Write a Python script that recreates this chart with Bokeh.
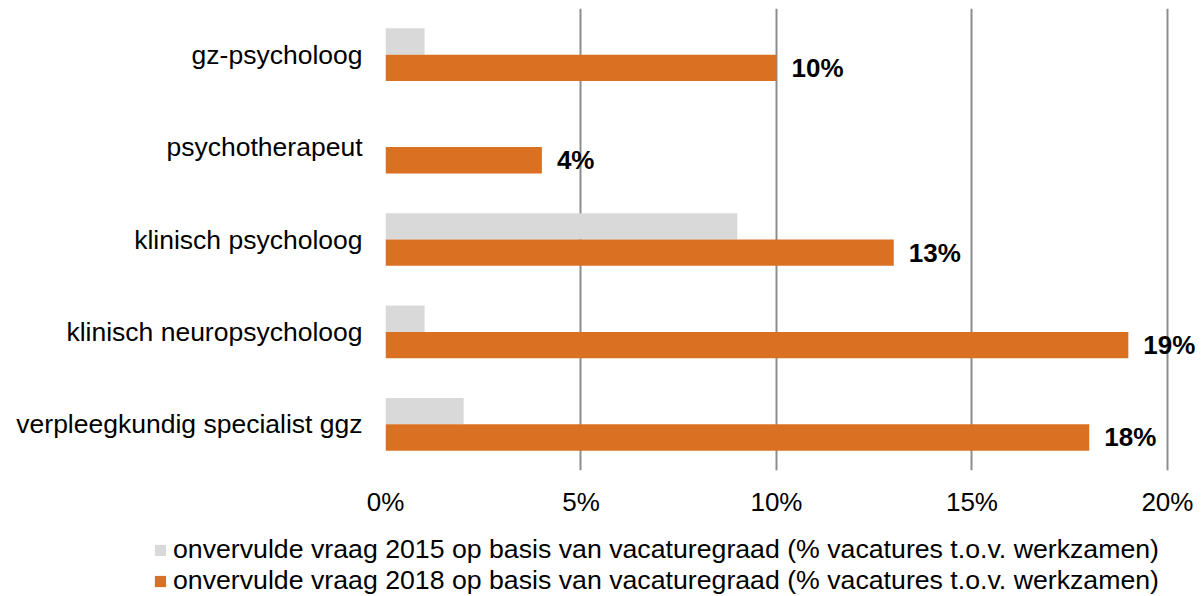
from bokeh.plotting import figure
from bokeh.models import (ColumnDataSource, FactorRange, Range1d, FixedTicker,
                          PrintfTickFormatter, LabelSet, Legend, LegendItem)
from bokeh.layouts import column
from bokeh.core.properties import value
from bokeh.transform import dodge
from bokeh.embed import file_html
from bokeh.resources import INLINE

categories = ["gz-psycholoog", "psychotherapeut", "klinisch psycholoog",
              "klinisch neuropsycholoog", "verpleegkundig specialist ggz"]
values_2015 = [1, 0, 9, 1, 2]
values_2018 = [10, 4, 13, 19, 18]
labels_2018 = ["10%", "4%", "13%", "19%", "18%"]
x_ticks = [0, 5, 10, 15, 20]
series_names = [
    "onvervulde vraag 2015 op basis van vacaturegraad (% vacatures t.o.v. werkzamen)",
    "onvervulde vraag 2018 op basis van vacaturegraad (% vacatures t.o.v. werkzamen)",
]

FONT = "Liberation Sans"
GREY = "#D9D9D9"
ORANGE = "#D97022"

source = ColumnDataSource(dict(cat=categories, v15=values_2015,
                               v18=values_2018, lab=labels_2018))

# ---------------- main chart ----------------
p = figure(width=1201, height=526, output_backend="svg", toolbar_location=None,
           y_range=FactorRange(*reversed(categories)), x_range=Range1d(0, 20.82),
           min_border_left=385, min_border_right=2, min_border_top=8,
           min_border_bottom=56)
p.outline_line_color = None
p.background_fill_color = "white"
p.border_fill_color = "white"
p.frame_align = False

bw = 0.285
r15 = p.hbar(y=dodge("cat", bw / 2, range=p.y_range), right="v15", left=0,
             height=bw, source=source, fill_color=GREY, line_color=None)
r18 = p.hbar(y=dodge("cat", -bw / 2, range=p.y_range), right="v18", left=0,
             height=bw, source=source, fill_color=ORANGE, line_color=None)

labels = LabelSet(x="v18", y=dodge("cat", -bw / 2, range=p.y_range), text="lab",
                  source=source, x_offset=15, text_baseline="middle",
                  text_align="left", text_font=value(FONT),
                  text_font_style="bold", text_font_size="26px",
                  text_color="black")
p.add_layout(labels)

p.xaxis.ticker = FixedTicker(ticks=x_ticks)
p.xaxis.formatter = PrintfTickFormatter(format="%d%%")
p.xaxis.axis_line_color = None
p.xaxis.major_tick_line_color = None
p.xaxis.minor_tick_line_color = None
p.xaxis.major_tick_out = 0
p.xaxis.major_tick_in = 0
p.xaxis.major_label_standoff = 16
p.xaxis.major_label_text_font = FONT
p.xaxis.major_label_text_font_size = "26px"
p.xaxis.major_label_text_color = "black"

p.yaxis.axis_line_color = None
p.yaxis.major_tick_line_color = None
p.yaxis.major_tick_out = 0
p.yaxis.major_tick_in = 0
p.yaxis.major_label_standoff = 23
p.yaxis.major_label_text_font = FONT
p.yaxis.major_label_text_font_size = "26.5px"
p.yaxis.major_label_text_color = "black"

p.ygrid.grid_line_color = None
p.xgrid.ticker = FixedTicker(ticks=x_ticks)
p.xgrid.grid_line_color = "#8C8C8C"
p.xgrid.grid_line_width = 2

# ---------------- legend strip ----------------
# same bars, but the strip's x range lies outside the data so that only the
# legend entries are visible
p2 = figure(width=1201, height=70, output_backend="svg", toolbar_location=None,
            x_range=Range1d(-2, -1), y_range=FactorRange(*categories),
            x_axis_type=None, y_axis_type=None,
            min_border_left=0, min_border_right=0, min_border_top=0,
            min_border_bottom=0)
p2.outline_line_color = None
p2.grid.grid_line_color = None
p2.frame_align = False
l15 = p2.hbar(y="cat", right="v15", left=0, height=0.3, source=source,
              fill_color=GREY, line_color=None)
l18 = p2.hbar(y="cat", right="v18", left=0, height=0.3, source=source,
              fill_color=ORANGE, line_color=None)

legend = Legend(items=[LegendItem(label=series_names[0], renderers=[l15]),
                       LegendItem(label=series_names[1], renderers=[l18])],
                location=(153, 0), orientation="vertical",
                glyph_width=14, glyph_height=14, label_standoff=6,
                label_text_font=FONT, label_text_font_size="26.7px",
                label_text_color="black", label_height=31, spacing=0,
                padding=0, margin=0, border_line_color=None,
                background_fill_color=None, background_fill_alpha=0)
p2.add_layout(legend, "center")

layout = column(p, p2, spacing=0)
open("out.html", "w").write(file_html(layout, INLINE))
